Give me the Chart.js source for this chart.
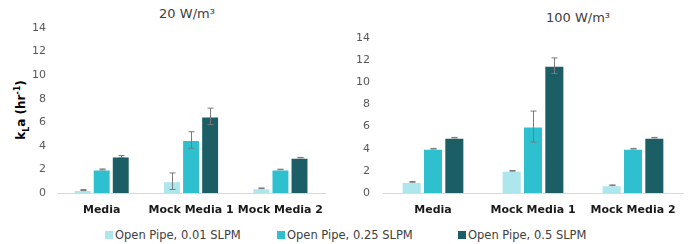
<!DOCTYPE html>
<html>
<head>
<meta charset="utf-8">
<script src="https://cdn.jsdelivr.net/npm/chart.js@4"></script>
<style>
  body { margin:0; width:691px; height:244px; background:#fff; font-family:"DejaVu Sans", Verdana, sans-serif; overflow:hidden; position:relative; }
  .box { position:absolute; top:0; }
  .ttl { position:absolute; font-size:13px; color:#404040; white-space:nowrap; transform:translateX(-50%); }
  .ylab { position:absolute; left:22px; top:110px; font-size:12px; font-weight:bold; color:#000; white-space:nowrap; transform:translate(-50%,-50%) rotate(-90deg); }
  .ylab sub, .ylab sup { font-size:8px; }
  .leg { position:absolute; top:228px; font-size:11.5px; color:#404040; white-space:nowrap; }
  .leg i { display:inline-block; width:8px; height:8px; margin-right:2px; vertical-align:0px; }
</style>
</head>
<body>
<div class="ttl" style="left:187px; top:6px;">20 W/m³</div>
<div class="ttl" style="left:578px; top:10px;">100 W/m³</div>
<div class="ylab">k<sub>L</sub>a (hr<sup>-1</sup>)</div>
<div class="box" style="left:0; width:335px; height:223px;"><canvas id="c20"></canvas></div>
<div class="box" style="left:340px; width:351px; height:223px;"><canvas id="c100"></canvas></div>
<div id="legend"></div>

<script>
// ---- datos ----
const categories = ['Media', 'Mock Media 1', 'Mock Media 2'];
const seriesNames = ['Open Pipe, 0.01 SLPM', 'Open Pipe, 0.25 SLPM', 'Open Pipe, 0.5 SLPM'];
const seriesColors = ['#ade6ec', '#2ec0cf', '#1b5e65'];

// 20 W/m3
const p20_low = [0.25, 1.0, 0.4];
const p20_mid = [2.0, 4.5, 2.0];
const p20_high = [3.1, 6.5, 3.0];
const p20_lowErr = [0.04, 0.7, 0.03];
const p20_midErr = [0.04, 0.7, 0.02];
const p20_highErr = [0.08, 0.7, 0.02];

// 100 W/m3
const p100_low = [1.0, 2.0, 0.7];
const p100_mid = [4.0, 6.0, 4.0];
const p100_high = [5.0, 11.5, 5.0];
const p100_lowErr = [0.03, 0.03, 0.03];
const p100_midErr = [0.03, 1.4, 0.03];
const p100_highErr = [0.02, 0.7, 0.02];

const yTicks = [0, 2, 4, 6, 8, 10, 12, 14];

// ---- error bars ----
const errorBarPlugin = {
  id: 'errorBars',
  afterDatasetsDraw(chart) {
    const ctx = chart.ctx, y = chart.scales.y;
    ctx.save();
    ctx.strokeStyle = '#7a7a7a';
    ctx.lineWidth = 1;
    chart.data.datasets.forEach((ds, di) => {
      const meta = chart.getDatasetMeta(di);
      meta.data.forEach((bar, i) => {
        const v = ds.data[i], e = ds.errors[i];
        const x = Math.round(bar.x) + 0.5;
        const yt = y.getPixelForValue(v + e), yb = y.getPixelForValue(v - e);
        ctx.beginPath();
        ctx.moveTo(x, yt); ctx.lineTo(x, yb);
        ctx.moveTo(x - 3, yt); ctx.lineTo(x + 3, yt);
        ctx.moveTo(x - 3, yb); ctx.lineTo(x + 3, yb);
        ctx.stroke();
      });
    });
    ctx.restore();
  }
};

function makeChart(id, vals, errs, yWidth, tickPad, padTop, padRight) {
  const datasets = vals.map((d, k) => ({
    label: seriesNames[k],
    data: d,
    errors: errs[k],
    backgroundColor: seriesColors[k],
    borderColor: 'rgba(255,255,255,0.5)',
    borderWidth: 1,
    categoryPercentage: 0.64,
    barPercentage: 0.94
  }));
  return new Chart(document.getElementById(id), {
    type: 'bar',
    data: { labels: categories, datasets },
    plugins: [errorBarPlugin],
    options: {
      responsive: true, maintainAspectRatio: false, animation: false,
      layout: { padding: { top: padTop, right: padRight, left: 0, bottom: 0 } },
      plugins: { legend: { display: false }, tooltip: { enabled: false } },
      scales: {
        x: {
          grid: { display: false, drawTicks: false },
          border: { display: true, color: '#d9d9d9', width: 1 },
          ticks: { padding: 11, color: '#1a1a1a', maxRotation: 0, minRotation: 0, autoSkip: false,
                   font: { family: 'DejaVu Sans', size: 11, weight: 'bold' } },
          afterFit: s => { s.height = 30; }
        },
        y: {
          min: 0, max: 14,
          afterBuildTicks: s => { s.ticks = yTicks.map(v => ({ value: v })); },
          grid: { display: false, drawTicks: false },
          border: { display: false },
          ticks: { padding: tickPad, color: '#595959', font: { family: 'DejaVu Sans', size: 11 } },
          afterFit: s => { s.width = yWidth; }
        }
      }
    }
  });
}

makeChart('c20', [p20_low, p20_mid, p20_high], [p20_lowErr, p20_midErr, p20_highErr], 57, 11, 28, 6);
makeChart('c100', [p100_low, p100_mid, p100_high], [p100_lowErr, p100_midErr, p100_highErr], 43, 13, 38, 8);

// ---- leyenda ----
const legPos = [105, 277, 458];
document.getElementById('legend').innerHTML = seriesNames.map((n, k) =>
  `<div class="leg" style="left:${legPos[k]}px"><i style="background:${seriesColors[k]}"></i>${n}</div>`).join('');
</script>
</body>
</html>
